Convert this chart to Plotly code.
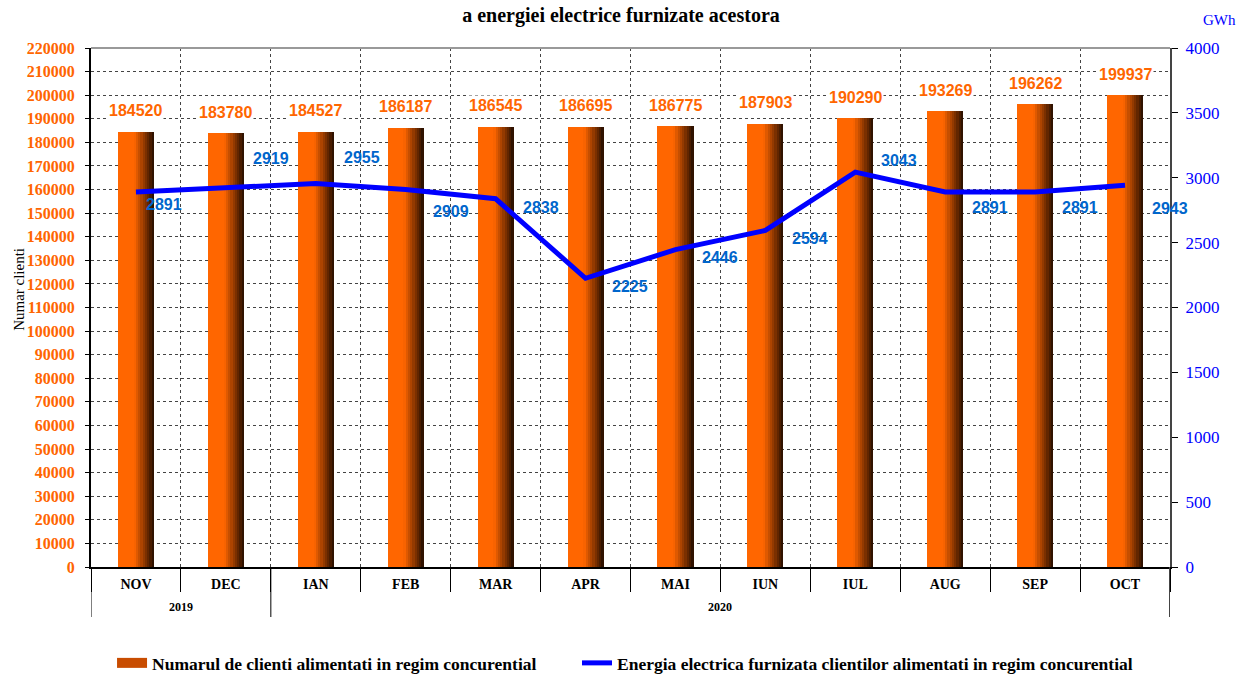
import plotly.graph_objects as go

years = ["2019", "2019", "2020", "2020", "2020", "2020", "2020", "2020", "2020", "2020", "2020", "2020"]
months = ["NOV", "DEC", "IAN", "FEB", "MAR", "APR", "MAI", "IUN", "IUL", "AUG", "SEP", "OCT"]
clients = [184520, 183780, 184527, 186187, 186545, 186695, 186775, 187903, 190290, 193269, 196262, 199937]
energy = [2891, 2919, 2955, 2909, 2838, 2225, 2446, 2594, 3043, 2891, 2891, 2943]
# label offsets (pixels) for the energy labels
e_dx = [28, 45, 46, 45, 45, 44, 45, 45, 44, 45, 45, 45]
e_dy = [-13, 30, 26, -22, -9, -8, -8, -8, 12, -16, -16, -23]

TIMES = "Liberation Serif"
ARIAL = "Liberation Sans"
ORANGE = "#FF6600"
PLOT_H = 675 - 48 - 108

fig = go.Figure()

N = 16
bw = 0.4
for i in range(N):
    t = i / (N - 1)
    if t < 0.45:
        c = (255, 102, 0)
    else:
        u = (t - 0.45) / 0.55
        c = (int(255 + (48 - 255) * u), int(102 + (18 - 102) * u), 0)
    fig.add_trace(go.Bar(
        x=months, y=clients, width=bw / N * 1.05, offset=-bw / 2 + i * bw / N,
        marker=dict(color="rgb(%d,%d,%d)" % c, line=dict(width=0)),
        name="Numarul de clienti alimentati in regim concurential",
        showlegend=False, hoverinfo="skip"))

# legend entry for bars (wide swatch)
fig.add_trace(go.Scatter(x=[None], y=[None], mode="lines",
                         line=dict(color="#C84C00", width=14),
                         name="Numarul de clienti alimentati in regim concurential",
                         showlegend=True, legend="legend"))

fig.add_trace(go.Scatter(
    x=months, y=energy, yaxis="y2", mode="lines",
    line=dict(color="#0000FF", width=5), legend="legend2",
    name="Energia electrica furnizata clientilor alimentati in regim concurential"))

ann = []
for i, v in enumerate(clients):
    ann.append(dict(x=i, y=v, xref="x", yref="y", text=str(v), showarrow=False,
                    yshift=21, bgcolor="white",
                    font=dict(family=ARIAL, size=16, color=ORANGE, weight="bold")))
for i, v in enumerate(energy):
    ann.append(dict(x=i, y=v, xref="x", yref="y2", text=str(v), showarrow=False,
                    xshift=e_dx[i], yshift=e_dy[i],
                    font=dict(family=ARIAL, size=16, color="#0066CC", weight="bold")))

# year group labels and dividers
groups = []
for i, yv in enumerate(years):
    if not groups or groups[-1][0] != yv:
        groups.append([yv, i, i])
    else:
        groups[-1][2] = i
shapes = []
for yv, a, b in groups:
    ann.append(dict(x=(a + b) / 2, xref="x", y=0, yref="paper", yshift=-40, text=yv,
                    showarrow=False, yanchor="middle",
                    font=dict(family=TIMES, size=12, color="black", weight="bold")))
    shapes.append(dict(type="line", xref="x", yref="paper", x0=a - 0.5, x1=a - 0.5,
                       y0=0, y1=-50 / PLOT_H, line=dict(color="black", width=1)))
shapes.append(dict(type="line", xref="x", yref="paper", x0=groups[-1][2] + 0.5,
                   x1=groups[-1][2] + 0.5, y0=0, y1=-50 / PLOT_H,
                   line=dict(color="#444", width=2)))
shapes.append(dict(type="line", xref="paper", yref="paper", x0=0, x1=1, y0=1, y1=1,
                   line=dict(color="#999", width=2)))

ann.append(dict(x=1.0, xref="paper", xanchor="left", xshift=31, y=1, yref="paper",
                yanchor="bottom", yshift=18, text="GWh", showarrow=False,
                font=dict(family=TIMES, size=15, color="#0000FF")))
ann.append(dict(x=0, xref="paper", xshift=-82, y=0.534, yref="paper", text="Numar clienti",
                textangle=-90, showarrow=False, font=dict(family=TIMES, size=15, color="black")))

legend_font = dict(family=TIMES, size=17.5, color="black", weight="bold")
legend_y = (567 - 663) / PLOT_H

fig.update_layout(
    width=1242, height=675,
    margin=dict(l=91, r=72, t=48, b=108, autoexpand=False),
    paper_bgcolor="white", plot_bgcolor="white",
    barmode="overlay", bargap=0,
    annotations=ann, shapes=shapes,
    title=dict(text="a energiei electrice furnizate acestora", x=0.5, xanchor="center",
               y=1 - 15 / 675, yanchor="middle",
               font=dict(family=TIMES, size=20, color="black", weight="bold")),
    xaxis=dict(type="category", tickson="boundaries", showgrid=True, automargin=False,
               range=[-0.5, len(months) - 0.5],
               gridcolor="#444", griddash="dot", gridwidth=1,
               ticks="outside", ticklen=23, tickcolor="black", ticklabelstandoff=3,
               showline=True, linecolor="black", linewidth=2, mirror=False,
               tickfont=dict(family=TIMES, size=14, color="black", weight="bold")),
    yaxis=dict(range=[0, 220000], dtick=10000, tickformat="d", showgrid=True, automargin=False,
               gridcolor="#444", griddash="dot", gridwidth=1,
               ticks="outside", ticklen=4, tickcolor="black", ticklabelstandoff=7,
               showline=True, linecolor="black", linewidth=2, zeroline=False,
               tickfont=dict(family=TIMES, size=16, color=ORANGE, weight="bold")),
    yaxis2=dict(range=[0, 4000], dtick=500, overlaying="y", side="right", showgrid=False,
                automargin=False, ticklabelstandoff=4,
                ticks="outside", ticklen=6, tickcolor="black", zeroline=False,
                showline=True, linecolor="#444", linewidth=2,
                tickfont=dict(family=TIMES, size=17, color="#0000FF")),
    legend=dict(orientation="h", x=0.0195, xanchor="left", y=legend_y, yanchor="middle",
                font=legend_font, bgcolor="rgba(0,0,0,0)"),
    legend2=dict(orientation="h", x=0.4504, xanchor="left", y=legend_y, yanchor="middle",
                 font=legend_font, bgcolor="rgba(0,0,0,0)"),
    showlegend=True,
)

fig.write_html("out.html", post_script="document.body.style.margin='0';",
               config={"displayModeBar": False})
